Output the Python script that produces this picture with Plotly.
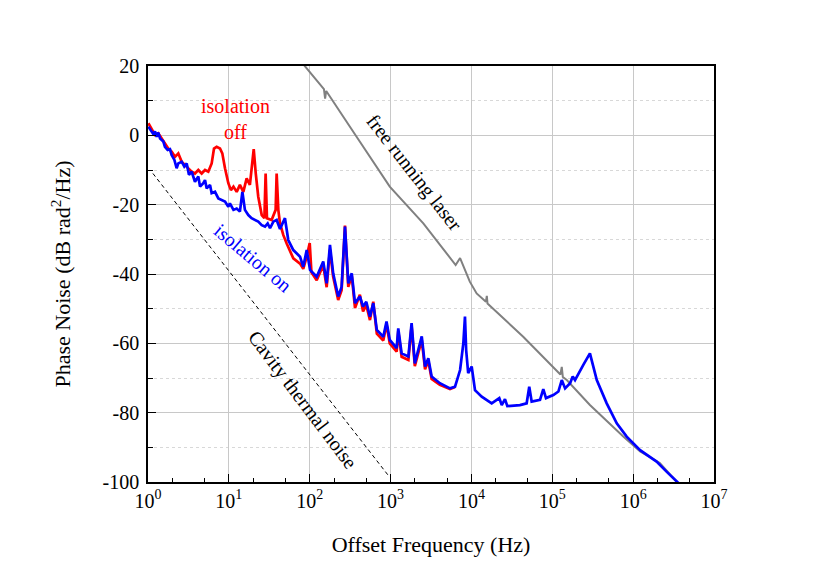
import plotly.graph_objects as go

# Ruido de fase con aislamiento activado (azul)
on_freq = [1.01, 1.09, 1.16, 1.22, 1.28, 1.34, 1.41, 1.55, 1.62, 1.75, 1.87, 1.96, 2.12,
           2.26, 2.37, 2.61, 2.81, 3.01, 3.21, 3.47, 3.64, 3.81, 4.19, 4.40, 4.83, 5.07,
           5.32, 5.85, 6.13, 6.74, 7.41, 8.15, 8.96, 9.85, 10.3, 11.4, 12.5, 13.7, 14.7,
           15.8, 17.4, 19.1, 21.0, 23.1, 25.5, 28.0, 30.2, 32.3, 35.5, 39.0, 42.9, 49.4,
           54.3, 62.7, 75.9, 83.2, 91.8, 101, 122, 147, 162, 178, 195, 225, 248, 273, 300,
           331, 363, 417, 457, 501, 556, 611, 676, 813, 891, 977, 1190, 1245, 1370, 1660,
           1820, 1995, 2430, 2670, 2930, 3220, 4070, 5430, 6270, 7240, 7940, 8320, 8610,
           9120, 10070, 11070, 13400, 15500, 17800, 22100, 23700, 26000, 27800, 39800,
           48200, 51900, 55600, 70500, 77400, 83600, 103000, 119000, 131000, 144000,
           166000, 179000, 191000, 242000, 292000, 355000, 471000, 627000, 832000, 1.22e6,
           1.95e6, 2.59e6, 3.63e6]
on_db = [2.5, 1.4, 0.4, 1.1, -0.4, 0.8, -0.9, -1.8, -3.3, -4.2, -4.0, -5.7, -7.1, -9.5,
         -8.1, -7.6, -9.0, -8.1, -11.4, -10.5, -11.9, -13.4, -11.9, -14.8, -13.8, -12.9,
         -15.3, -14.3, -16.7, -16.3, -18.2, -18.7, -19.1, -20.6, -19.6, -21.5, -21.1, -22.0,
         -16.3, -21.5, -23.0, -23.9, -24.4, -24.9, -25.9, -26.3, -25.4, -26.8, -24.9, -24.4,
         -27.0, -23.9, -30.2, -33.1, -35.0, -37.9, -33.1, -38.8, -40.8, -36.4, -42.7, -31.6,
         -39.8, -46.5, -43.7, -26.3, -42.7, -39.8, -48.4, -46.5, -49.4, -48.0, -52.3, -48.4,
         -56.1, -58.1, -53.7, -59.0, -61.4, -55.7, -62.9, -63.8, -54.2, -65.8, -58.0, -66.7,
         -64.3, -69.6, -71.5, -73.0, -72.5, -67.7, -60.0, -52.3, -62.0, -68.6, -66.7, -73.5,
         -75.4, -76.3, -77.3, -75.8, -77.8, -76.1, -78.1, -77.8, -77.3, -72.5, -76.8, -76.3,
         -73.2, -75.8, -74.9, -73.9, -70.6, -73.0, -71.5, -69.6, -70.6, -66.2, -62.9, -70.6,
         -77.3, -83.1, -86.9, -90.8, -94.1, -97.0, -100.3]

# Ruido de fase con aislamiento desactivado (rojo)
off_freq = [1.01, 1.11, 1.22, 1.34, 1.48, 1.62, 1.78, 1.96, 2.16, 2.37, 2.61, 2.87, 3.15,
            3.47, 3.81, 4.19, 4.61, 5.07, 5.57, 6.13, 6.55, 7.06, 7.77, 8.30, 8.96, 9.85,
            10.6, 11.4, 12.5, 13.7, 15.1, 16.6, 18.2, 19.5, 20.3, 21.5, 23.1, 25.5, 27.5,
            28.5, 29.6, 33.8, 37.9, 39.0, 40.9, 42.9, 47.2, 51.9, 62.7, 75.9, 83.2, 91.8,
            100, 105, 122, 147, 162, 178, 195, 225, 248, 273, 300, 331, 363, 417, 457, 501,
            556, 611, 676, 813, 891, 977, 1190, 1245, 1370, 1660, 1820, 1995, 2430, 2670,
            2930, 3220, 4070, 5430, 6270]
off_db = [3.5, 2.0, 0.1, 0.6, -0.9, -2.3, -3.8, -4.7, -6.2, -5.2, -7.6, -8.6, -9.5, -10.5,
          -11.0, -10.0, -11.0, -10.0, -10.5, -8.1, -3.8, -3.3, -3.8, -5.2, -9.5, -13.8, -15.8,
          -14.8, -16.3, -14.3, -16.3, -12.4, -14.3, -8.1, -4.0, -11.0, -17.7, -23.0, -23.9,
          -11.0, -23.9, -24.4, -21.5, -11.0, -21.5, -25.4, -28.8, -31.2, -35.5, -37.0, -38.5,
          -35.0, -31.1, -39.5, -41.8, -37.5, -43.8, -33.0, -40.8, -47.5, -44.7, -26.0, -43.7,
          -40.5, -49.8, -46.0, -50.8, -49.0, -53.3, -48.0, -57.2, -59.2, -54.5, -60.0, -62.4,
          -56.5, -63.9, -64.8, -55.0, -66.6, -59.0, -67.5, -65.0, -70.3, -72.0, -73.2, -72.6]

# Láser libre (gris)
free_freq = [80, 126, 150, 155, 160, 380, 977, 2540, 4900, 6380, 7240, 9550, 11600, 15100,
             15500, 15800, 43700, 112000, 126000, 131000, 135000, 151000, 292000, 755000,
             1.22e6, 2.14e6, 3.63e6]
free_db = [21.0, 15.5, 13.3, 10.6, 12.8, -0.4, -14.8, -25.4, -34.0, -37.4, -35.4, -42.2,
           -45.6, -48.0, -46.3, -48.5, -58.1, -67.7, -69.0, -66.8, -69.7, -70.6, -77.8,
           -86.9, -91.2, -94.5, -100.5]

# Ruido térmico de la cavidad (discontinua)
cavity_freq = [1.15, 930]
cavity_db = [-11.0, -98.0]

x_tickvals = [1, 10, 100, 1e3, 1e4, 1e5, 1e6, 1e7]
x_ticktext = ['10<sup>%d</sup>' % i for i in range(8)]
y_tickvals = [-100, -80, -60, -40, -20, 0, 20]
y_ticktext = ['-100', '-80', '-60', '-40', '-20', '0', '20']

FONT = 'Liberation Serif, Times New Roman, serif'

fig = go.Figure()
fig.add_trace(go.Scatter(x=free_freq, y=free_db, mode='lines',
                         line=dict(color='#808080', width=2)))
fig.add_trace(go.Scatter(x=off_freq, y=off_db, mode='lines',
                         line=dict(color='#ff0000', width=2.7)))
fig.add_trace(go.Scatter(x=on_freq, y=on_db, mode='lines',
                         line=dict(color='#0000ff', width=2.7)))
fig.add_trace(go.Scatter(x=cavity_freq, y=cavity_db, mode='lines',
                         line=dict(color='black', width=1, dash='4px,3px')))

# Etiquetas dentro del gráfico
fig.add_annotation(x=1.088, y=4.7, xref='x', yref='y', text='isolation<br>off',
                   showarrow=False, font=dict(color='#ff0000', size=20, family=FONT))
fig.add_annotation(x=1.30, y=-35.4, xref='x', yref='y', text='isolation on', textangle=40,
                   showarrow=False, font=dict(color='#0000ff', size=20, family=FONT))
fig.add_annotation(x=3.29, y=-10.6, xref='x', yref='y', text='free running laser',
                   textangle=52, showarrow=False,
                   font=dict(color='black', size=20, family=FONT))
fig.add_annotation(x=1.905, y=-76.3, xref='x', yref='y', text='Cavity thermal noise',
                   textangle=53, showarrow=False,
                   font=dict(color='black', size=20, family=FONT))

fig.update_layout(
    width=830, height=579,
    showlegend=False,
    plot_bgcolor='white',
    paper_bgcolor='white',
    margin=dict(l=140, r=124, t=58, b=105),
    font=dict(family=FONT, size=20, color='black'),
)

fig.update_xaxes(
    type='log', range=[0, 7],
    tickvals=x_tickvals, ticktext=x_ticktext,
    ticks='inside', ticklen=8, tickwidth=1, tickcolor='black',
    showline=True, linecolor='black', linewidth=1.5, mirror=True,
    showgrid=True, gridcolor='#c8c8c8', gridwidth=1,
    minor=dict(ticks='inside', ticklen=4, tickcolor='black', showgrid=False),
    title=dict(text='Offset Frequency (Hz)', standoff=26,
               font=dict(family=FONT, size=22, color='black')),
    zeroline=False,
)

fig.update_yaxes(
    range=[-100, 20], tickvals=y_tickvals, ticktext=y_ticktext,
    ticks='inside', ticklen=8, tickwidth=1, tickcolor='black',
    ticklabelstandoff=3,
    showline=True, linecolor='black', linewidth=1.5, mirror=True,
    showgrid=True, gridcolor='#c8c8c8', gridwidth=1,
    minor=dict(dtick=10, ticks='inside', ticklen=5, tickcolor='black',
               showgrid=True, gridcolor='#d8d8d8', griddash='dot'),
    title=dict(text='Phase Noise (dB rad<sup>2</sup>/Hz)', standoff=26,
               font=dict(family=FONT, size=22, color='black')),
    zeroline=False,
)

fig.write_html('out.html')
